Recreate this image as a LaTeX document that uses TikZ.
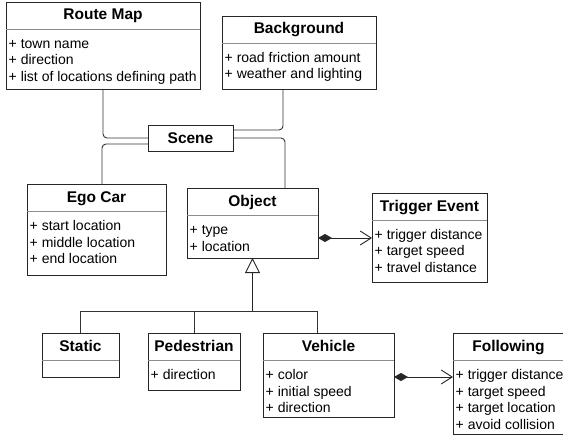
\documentclass[tikz,border=0pt]{standalone}
\usepackage{fontspec}
\setmainfont{Liberation Sans}
\usetikzlibrary{arrows.meta}
\tikzset{
  classbox/.style={draw=black!85, line width=0.9pt, fill=white, inner sep=0pt, outer sep=0pt},
  titletext/.style={anchor=base, inner sep=0pt, font=\fontsize{15.5}{18}\selectfont\bfseries},
  attrtext/.style={anchor=base west, inner sep=0pt, font=\fontsize{14}{16.5}\selectfont},
  seprule/.style={draw=black!45, line width=0.8pt},
  conn/.style={draw=black!80, line width=0.9pt, rounded corners=4pt},
  comp/.style={draw=black!85, line width=0.9pt, {Diamond[length=14pt,width=8pt]}-{Straight Barb[length=11pt,width=14pt]}},
  gen/.style={draw=black!85, line width=0.9pt, -{Triangle[open,length=15pt,width=15pt,fill=white]}},
}
\newcommand{\umlbox}[7]{%
  \node[classbox, minimum width=#4pt, minimum height=#5pt, anchor=north west] (#1) at (#2,#3) {};
  \node[titletext] (#1-t) at ([yshift=-18pt]#1.north) {#6};
  \draw[seprule] ([yshift=-27pt]#1.north west) -- ([yshift=-27pt]#1.north east);
  \node[attrtext] (#1-a) at ([xshift=2.5pt,yshift=-46.5pt]#1.north west)
    {\begin{tabular}[t]{@{}l@{}}#7\end{tabular}};
}
\begin{document}
\begin{tikzpicture}[x=1pt,y=-1pt]
\useasboundingbox (0,0) rectangle (563,436);
\clip (0,0) rectangle (563,436);
\fill[white] (0,0) rectangle (563,436);
\umlbox{rm}{6}{2}{194}{87}{Route Map}{+ town name\\+ direction\\+ list of locations defining path}
\umlbox{bg}{222}{16}{154}{73}{Background}{+ road friction amount\\+ weather and lighting}
\node[classbox, minimum width=85pt, minimum height=26pt, anchor=north west] (scene) at (148,125) {};
\node[titletext] (scene-t) at ([yshift=-5pt]scene.center) {Scene};
\umlbox{ego}{27}{184}{139}{91}{Ego Car}{+ start location\\+ middle location\\+ end location}
\umlbox{obj}{187}{188}{131}{70}{Object}{+ type\\+ location}
\umlbox{trig}{372}{193}{115}{89}{Trigger Event}{+ trigger distance\\+ target speed\\+ travel distance}
\umlbox{static}{42}{333}{77}{44}{Static}{}
\umlbox{ped}{148}{333}{92}{57}{Pedestrian}{+ direction}
\umlbox{veh}{263}{333}{131}{84}{Vehicle}{+ color\\+ initial speed\\+ direction}
\umlbox{fol}{453}{333}{111}{101}{Following}{+ trigger distance\\+ target speed\\+ target location\\+ avoid collision}
% scene connectors
\draw[conn] (rm.south) |- (scene.west);
\draw[conn] ([xshift=-16pt]bg.south) |- ([yshift=8pt]scene.east);
\draw[conn] ([yshift=-6pt]scene.west) -| ([xshift=5.5pt]ego.north);
\draw[conn] (scene.east) -| ([xshift=32.5pt]obj.north);
% compositions
\draw[comp] ([yshift=-15pt]obj.east) -- ([yshift=-15pt]obj.east -| trig.west);
\draw[comp] ([yshift=-2pt]veh.east) -- ([yshift=-2pt]veh.east -| fol.west);
% generalization
\coordinate (gj) at (252.5,311);
\draw[gen] (gj) -- (obj.south);
\draw[conn, rounded corners=0pt] (static.north) |- (gj);
\draw[conn, rounded corners=0pt] (ped.north) -- (ped.north |- gj);
\draw[conn, rounded corners=0pt] ([xshift=-11.5pt]veh.north) |- (gj);
\end{tikzpicture}
\end{document}
